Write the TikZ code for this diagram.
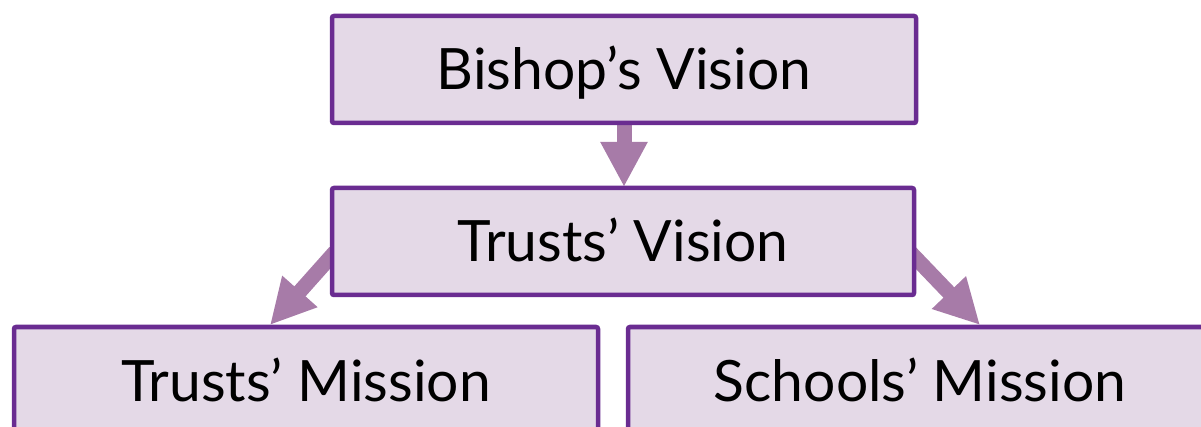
\documentclass[tikz,border=0pt]{standalone}
\usepackage{fontspec}
\setmainfont{Lato}
\usetikzlibrary{arrows.meta}
\definecolor{boxfill}{HTML}{E4D9E7}
\definecolor{boxline}{HTML}{6A2C91}
\definecolor{arrowc}{HTML}{A77BA8}
\tikzset{
  vbox/.style={draw=boxline, fill=boxfill, line width=4.5pt, rounded corners=2pt,
    minimum width=584pt, minimum height=107pt, inner sep=0pt,
    font=\fontsize{57}{62}\selectfont, text height=41pt, text depth=0pt},
  bigarrow/.style={draw=arrowc, line width=15pt,
    -{Triangle[width=44pt,length=45pt,fill=arrowc]}}
}
\begin{document}
\begin{tikzpicture}[x=1pt,y=-1pt]
\useasboundingbox (0,0) rectangle (1201,427);
\clip (0,0) rectangle (1201,427);
\coordinate (bvs) at (624,120);
\coordinate (tvn) at (624,187);
\coordinate (tvl) at (335,252);
\coordinate (tml) at (270,325);
\coordinate (tvr) at (910,252);
\coordinate (smr) at (980,325);
\draw[bigarrow] (bvs) -- (tvn);
\draw[bigarrow] (tvl) -- (tml);
\draw[bigarrow] (tvr) -- (smr);
\node[vbox] (bv) at (624,69.5) {Bishop’s Vision};
\node[vbox, minimum width=582pt] (tv) at (623,241.5) {Trusts’ Vision};
\node[vbox] (tm) at (306,380.5) {Trusts’ Mission};
\node[vbox] (sm) at (920,380.5) {Schools’ Mission};
\end{tikzpicture}
\end{document}
